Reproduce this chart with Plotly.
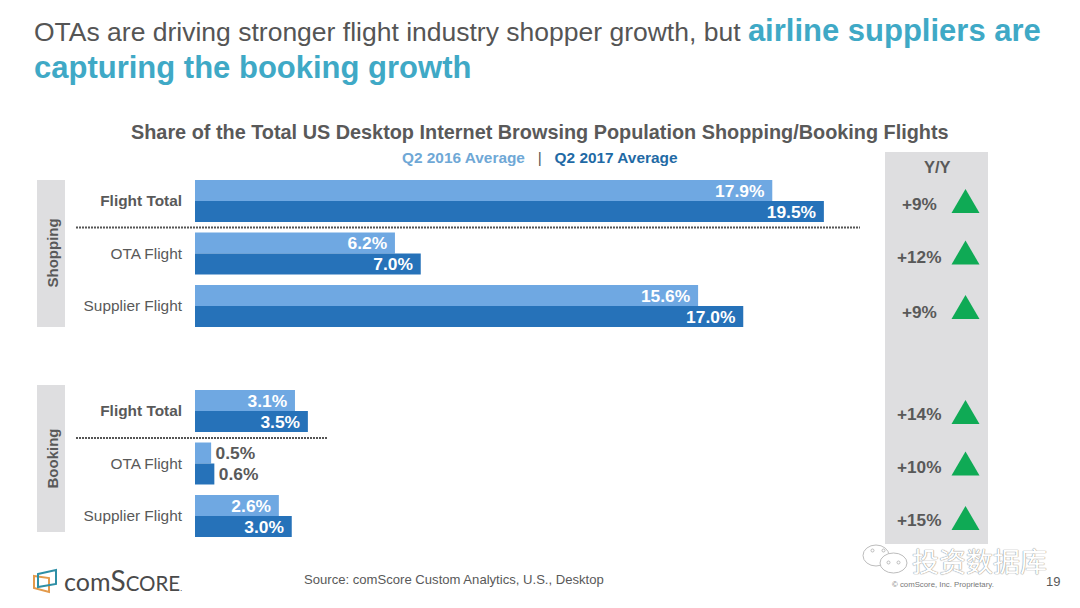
import plotly.graph_objects as go

W, H = 1080, 608

# ---- data ----
row_index = [0, 1, 2, 4, 5, 6]
row_labels = ["<b>Flight Total</b>", "OTA Flight", "Supplier Flight",
              "<b>Flight Total</b>", "OTA Flight", "Supplier Flight"]
q2_2016 = [17.9, 6.2, 15.6, 3.1, 0.5, 2.6]
q2_2017 = [19.5, 7.0, 17.0, 3.5, 0.6, 3.0]
yoy_labels = ["+9%", "+12%", "+9%", "+14%", "+10%", "+15%"]
series_names = ["Q2 2016 Average", "Q2 2017 Average"]
group_names = ["Shopping", "Booking"]

LIGHT = "#6FA8E2"
DARK = "#2672B9"
TEXT = "#595959"
TEAL = "#3FA9C6"
PANEL = "#DEDEE0"
GREEN = "#0FAA55"
FONT = "Liberation Sans, Arial, sans-serif"


def px(x):
    return x / W


def py(y):
    return 1 - y / H


def note(x, y, text, size, color=TEXT, anchor="center", **kw):
    return dict(xref="paper", yref="paper", x=px(x), y=py(y), text=text, showarrow=False,
                xanchor=anchor, yanchor="middle",
                font=dict(family=kw.pop("family", FONT), size=size, color=color, **kw.pop("fontkw", {})), **kw)


def rect(x0, y0, x1, y1, fill):
    return dict(type="rect", xref="paper", yref="paper", x0=px(x0), x1=px(x1), y0=py(y0), y1=py(y1),
                fillcolor=fill, line=dict(width=0), layer="below")


def outline(points, color, width=2):
    path = "M" + " L".join(f"{px(x):.5f},{py(y):.5f}" for x, y in points) + " Z"
    return dict(type="path", xref="paper", yref="paper", path=path, line=dict(color=color, width=width))


def circle(x0, y0, x1, y1, color, fill="rgba(255,255,255,0.85)"):
    return dict(type="circle", xref="paper", yref="paper", x0=px(x0), x1=px(x1), y0=py(y1), y1=py(y0),
                line=dict(color=color, width=1), fillcolor=fill)


def bar_trace(name, values, color):
    small = [v < 1 for v in values]
    return go.Bar(
        name=name, orientation="h", y=row_index, x=values,
        marker=dict(color=color, line=dict(width=0)),
        text=[f"\u200a{v:.1f}%" if s else f"{v:.1f}%\u00a0" for v, s in zip(values, small)],
        textposition=["outside" if s else "inside" for s in small],
        insidetextanchor="end",
        textangle=0,
        constraintext="none",
        cliponaxis=False,
        textfont=dict(family=FONT, size=17.4, color=[TEXT if s else "white" for s in small],
                      weight="bold"),
        hoverinfo="skip",
    )


fig = go.Figure([bar_trace(series_names[0], q2_2016, LIGHT),
                 bar_trace(series_names[1], q2_2017, DARK)])

shapes = [
    rect(885, 152, 988, 544, PANEL),
    rect(37, 180, 65, 327, PANEL),
    rect(37, 385, 65, 532, PANEL),
    dict(type="line", xref="paper", yref="paper", x0=px(76), x1=px(860), y0=py(227.5), y1=py(227.5),
         line=dict(color="#555555", width=2, dash="2px,1px")),
    dict(type="line", xref="paper", yref="paper", x0=px(76), x1=px(327), y0=py(438), y1=py(438),
         line=dict(color="#555555", width=2, dash="2px,1px")),
    # comScore logo mark
    outline([(34, 576), (49, 578), (49, 592), (34, 588)], "#E39A4B"),
    outline([(38, 574), (56, 570), (56, 584), (38, 587)], "#2E8FA6"),
    # watermark bubbles
    circle(863, 545, 889, 566, "#BDBDBD"),
    circle(880, 553, 907, 573, "#BDBDBD", "white"),
    circle(871, 549, 874, 552, "#BDBDBD"),
    circle(882, 549, 885, 552, "#BDBDBD"),
    circle(887, 561, 890, 564, "#BDBDBD"),
    circle(897, 561, 900, 564, "#BDBDBD"),
]

# Y/Y triangles are anchored on the row positions of the value axis
tri_offsets = [0, -1, 1, 1, 0, 2]
for r, off in zip(row_index, tri_offsets):
    shapes.append(dict(type="path", xref="paper", yref="y", xsizemode="pixel", ysizemode="pixel",
                       xanchor=px(965.5), yanchor=r,
                       path=f"M-14,{-12 - off} L14,{-12 - off} L0,{12 - off} Z",
                       fillcolor=GREEN, line=dict(width=0)))

yoy_y = [204, 257, 312, 414, 467, 520]
annotations = [
    note(539.5, 132, "<b>Share of the Total US Desktop Internet Browsing Population Shopping/Booking Flights</b>", 19.85),
    note(540, 157, f"<b><span style='color:#6FA8D6'>{series_names[0]}</span></b>"
                   f"<span style='color:#555555'>   |   </span>"
                   f"<b><span style='color:#1F6AA5'>{series_names[1]}</span></b>", 15.4),
    note(937, 167, "<b>Y/Y</b>", 16.5),
    note(52, 253.5, f"<b>{group_names[0]}</b>", 15, textangle=-90),
    note(52, 458.5, f"<b>{group_names[1]}</b>", 15, textangle=-90),
    note(301.5, 579, "Source: comScore Custom Analytics, U.S., Desktop", 13.1, anchor="left"),
    note(1053, 581, "19", 13),
    note(942.5, 584, "© comScore, Inc. Proprietary.", 7.8, color="#777777"),
    note(62, 580, "<span style='font-size:25px'>com</span><span style='font-size:28px'>S</span>"
                  "<span style='font-size:20.5px'>CORE</span><span style='font-size:8px'>.</span>",
         20, color="#4A4A4A", anchor="left", family="Lato, sans-serif"),
    note(979.5, 560, "投资数据库", 27, color="#FFFFFF", family="Noto Sans CJK SC",
         fontkw=dict(shadow="0 0 1px #8a8a8a, 0 0 1px #8a8a8a")),
]
for label, y in zip(yoy_labels, yoy_y):
    annotations.append(note(919, y, f"<b>{label}</b>", 17.2))

fig.update_layout(
    width=W, height=H, autosize=False,
    margin=dict(l=0, r=0, t=0, b=0),
    paper_bgcolor="white", plot_bgcolor="rgba(0,0,0,0)",
    showlegend=False,
    barmode="group", bargap=0.2, bargroupgap=0,
    font=dict(family=FONT, color=TEXT),
    title=dict(
        text="<span style='font-size:26.5px'>OTAs are driving stronger flight industry shopper growth, but </span>"
             f"<b><span style='color:{TEAL};font-size:31px'>airline suppliers are</span></b><br>"
             f"<b><span style='color:{TEAL};font-size:31px'>capturing the booking growth</span></b>",
        x=px(34), xanchor="left", xref="paper", y=py(40.5), yanchor="top", yref="paper",
        font=dict(family=FONT, size=28.5, color="#555555"),
        pad=dict(l=0, r=0, t=0, b=0),
    ),
    xaxis=dict(domain=[px(195), 1], range=[0, (W - 195) / 32.25], visible=False, fixedrange=True),
    yaxis=dict(domain=[py(542.25), py(174.75)], range=[6.5, -0.5], tickmode="array",
               tickvals=row_index, ticktext=row_labels, ticks="", showline=False, showgrid=False,
               zeroline=False, ticklabelstandoff=12, tickfont=dict(family=FONT, size=15.4, color=TEXT),
               fixedrange=True),
    shapes=shapes,
    annotations=annotations,
)

fig.write_html("out.html", config=dict(displayModeBar=False),
               post_script="document.body.style.margin='0';")
